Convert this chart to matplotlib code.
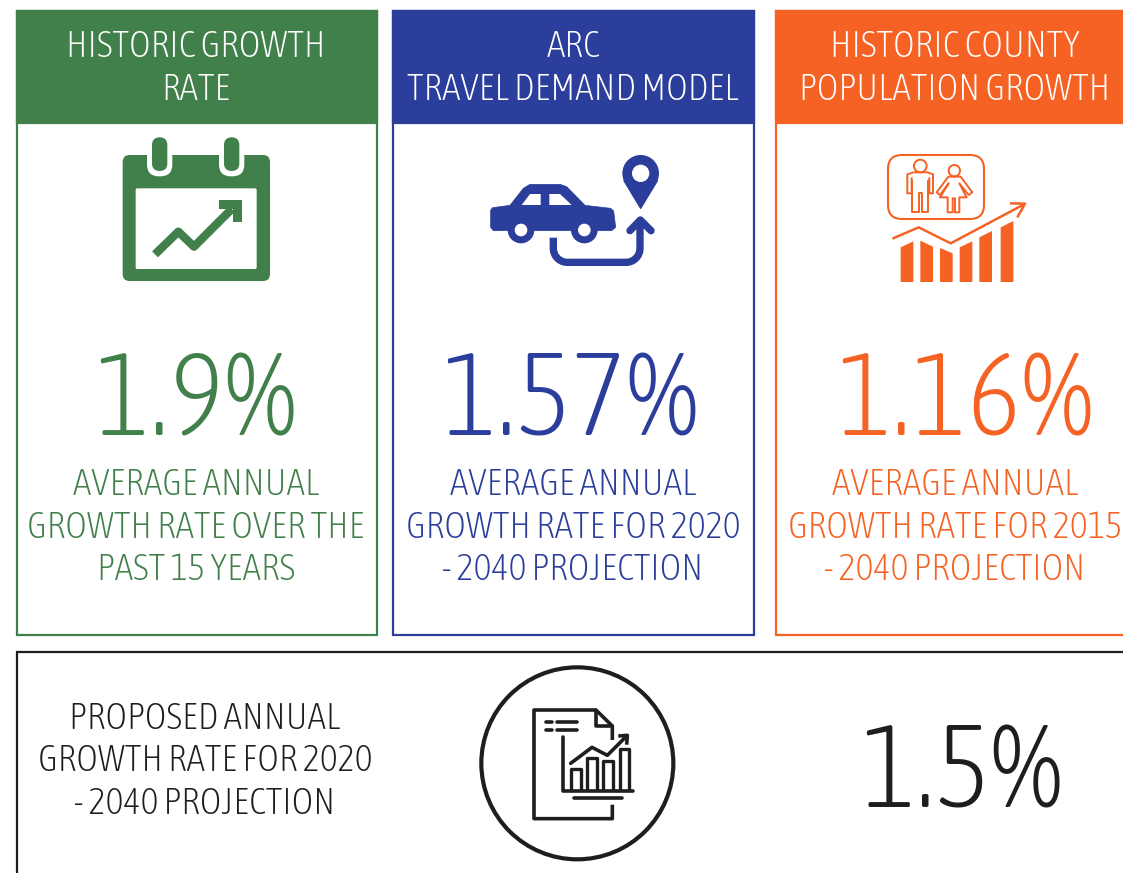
import numpy as np
import matplotlib
matplotlib.use("Agg")
import matplotlib.pyplot as plt
from matplotlib.patches import Rectangle, FancyBboxPatch, Circle, Polygon

# --- Chart content ---
titles = [["HISTORIC GROWTH", "RATE"],
          ["ARC", "TRAVEL DEMAND MODEL"],
          ["HISTORIC COUNTY", "POPULATION GROWTH"]]
values = ["1.9%", "1.57%", "1.16%"]
captions = [["AVERAGE ANNUAL", "GROWTH RATE OVER THE", "PAST 15 YEARS"],
            ["AVERAGE ANNUAL", "GROWTH RATE FOR 2020", "- 2040 PROJECTION"],
            ["AVERAGE ANNUAL", "GROWTH RATE FOR 2015", "- 2040 PROJECTION"]]
proposed_caption = ["PROPOSED ANNUAL", "GROWTH RATE FOR 2020", "- 2040 PROJECTION"]
proposed_value = "1.5%"

GREEN = "#417f4b"
BLUE = "#2c3e9b"
ORANGE = "#f56224"
BLACK = "#1e1e1e"
colors = [GREEN, BLUE, ORANGE]

# panel edges in pixels
panel_left = [17, 393, 776]
panel_right = [377, 754, 1135]
text_x = [196, 573, 955]
value_x = [196, 570, 965]

NARROW = ["Asap Condensed", "Liberation Sans", "DejaVu Sans"]
TXT = 26.8
BIG = 84

fig = plt.figure(figsize=(11.23, 8.73), dpi=100)
ax = fig.add_axes([0, 0, 1, 1])
ax.set_xlim(0, 1123)
ax.set_ylim(873, 0)
ax.axis("off")


def poly(pts, ox, oy, color, lw=0, z=3):
    # points are read at 3x from the crops, ox/oy is the crop corner
    xy = [(x / 3 + ox, y / 3 + oy) for x, y in pts]
    ax.add_patch(Polygon(xy, closed=True, fc=color, ec=color, lw=lw, zorder=z, joinstyle="round"))


def line(pts, ox, oy, color, lw, z=3, cap="butt"):
    x = [p[0] / 3 + ox for p in pts]
    y = [p[1] / 3 + oy for p in pts]
    ax.plot(x, y, color=color, lw=lw, zorder=z, solid_capstyle=cap, solid_joinstyle="round")


def circ(x, y, r, ox, oy, fc, ec="none", lw=0, z=3):
    ax.add_patch(Circle((x / 3 + ox, y / 3 + oy), r / 3, fc=fc, ec=ec, lw=lw, zorder=z))


def rbox(x0, y0, x1, y1, ox, oy, r, fc, ec="none", lw=0, z=3):
    ax.add_patch(FancyBboxPatch((x0 / 3 + ox + r, y0 / 3 + oy + r),
                                (x1 - x0) / 3 - 2 * r, (y1 - y0) / 3 - 2 * r,
                                boxstyle=f"round,pad={r},rounding_size={r}",
                                fc=fc, ec=ec, lw=lw, zorder=z))


# --- Panels ---
for i, c in enumerate(colors):
    w = panel_right[i] - panel_left[i]
    ax.add_patch(Rectangle((panel_left[i], 11), w, 624, fc="white", ec=c, lw=1.6, zorder=1))
    ax.add_patch(Rectangle((panel_left[i], 11), w, 112, fc=c, ec=c, lw=1.6, zorder=2))
    for txt, y in zip(titles[i], [43, 86]):
        ax.text(text_x[i], y, txt, color="white", family=NARROW, fontweight="light", fontsize=TXT,
                ha="center", va="center_baseline", zorder=4)
    ax.text(value_x[i], 391, values[i], color=c, family=NARROW, fontweight="light", fontsize=BIG,
            ha="center", va="center_baseline", zorder=4)
    for txt, y in zip(captions[i], [481, 524, 566]):
        ax.text(text_x[i], y, txt, color=c, family=NARROW, fontweight="light", fontsize=TXT,
                ha="center", va="center_baseline", zorder=4)

# --- Bottom box ---
ax.plot([17, 17, 1123], [880, 652, 652], color=BLACK, lw=1.6, zorder=2, solid_joinstyle="miter")
for txt, y in zip(proposed_caption, [715, 757, 800]):
    ax.text(205, y, txt, color=BLACK, family=NARROW, fontweight="light", fontsize=TXT,
            ha="center", va="center_baseline")
ax.text(961, 763, proposed_value, color=BLACK, family=NARROW, fontweight="light", fontsize=BIG,
        ha="center", va="center_baseline")

# --- Calendar icon ---
ox, oy = 100, 125
rbox(68, 90, 510, 468, ox, oy, 7, GREEN)
rbox(107, 190, 470, 432, ox, oy, 1.5, "white", z=4)
for cx in [179, 395]:
    rbox(cx - 38, 60, cx + 38, 154, ox, oy, 12, "white", z=4)
    ax.add_patch(Rectangle(((cx - 38) / 3 + ox, 70 / 3 + oy), 76 / 3, 20 / 3, fc="white", ec="none", zorder=4))
    rbox(cx - 23, 37, cx + 23, 138, ox, oy, 7.6, GREEN, z=5)
line([(165, 388), (235, 320), (282, 365), (395, 252)], ox, oy, GREEN, 6, z=5)
poly([(358, 225), (426, 225), (426, 291), (398, 291), (398, 252), (358, 252)], ox, oy, GREEN, z=5)

# --- Car icon ---
ox, oy = 470, 140
poly([(62, 210), (68, 203), (120, 196), (160, 145), (180, 133), (270, 133), (290, 140), (345, 196),
      (422, 205), (431, 213), (437, 262), (425, 272), (70, 272), (62, 262)], ox, oy, BLUE, lw=0.5)
for cx in [153, 343]:
    circ(cx, 270, 40, ox, oy, BLUE)
    circ(cx, 270, 19, ox, oy, "white", z=4)
poly([(155, 195), (180, 162), (212, 162), (212, 195)], ox, oy, "white", z=4)
poly([(238, 162), (270, 162), (305, 195), (238, 195)], ox, oy, "white", z=4)
t = np.linspace(np.pi, np.pi / 2, 20)
route = [(250, 293), (250, 325)]
route += [(292 + 42 * np.cos(a), 325 + 42 * np.sin(a)) for a in t]
route += [(468 + 42 * np.cos(a), 325 + 42 * np.sin(a)) for a in np.linspace(np.pi / 2, 0, 20)]
route += [(510, 240)]
line(route, ox, oy, BLUE, 5.3)
line([(480, 272), (511, 240), (543, 272)], ox, oy, BLUE, 5.3, cap="round")
circ(512, 100, 55, ox, oy, BLUE)
poly([(462, 122), (512, 205), (562, 122)], ox, oy, BLUE, lw=1)
circ(512, 100, 26, ox, oy, "white", z=4)

# --- People icon ---
ox, oy = 870, 140
rbox(54, 45, 342, 237, ox, oy, 14, "none", ec=ORANGE, lw=1.5)
circ(151, 78, 19, ox, oy, "none", ec=ORANGE, lw=1.4)
line([(130, 97), (172, 97), (189, 103), (189, 160), (178, 160), (178, 112)], ox, oy, ORANGE, 1.4)
line([(130, 97), (112, 103), (112, 160), (125, 160), (125, 112)], ox, oy, ORANGE, 1.4)
line([(127, 120), (127, 215), (148, 215), (148, 160), (155, 160), (155, 215), (175, 215), (175, 120)],
     ox, oy, ORANGE, 1.4)
circ(253, 92, 17, ox, oy, "none", ec=ORANGE, lw=1.4)
line([(235, 110), (272, 110), (307, 157), (296, 165), (268, 130), (290, 172), (268, 172), (268, 217),
      (255, 217), (255, 175), (248, 175), (248, 217), (233, 217), (233, 172), (210, 172), (236, 130),
      (210, 165), (200, 157), (235, 110)], ox, oy, ORANGE, 1.4)
# small bars
bar_pts = [(92, 322, 130, 304), (151, 302, 189, 320), (210, 324, 248, 340),
           (269, 322, 307, 304), (328, 292, 366, 273), (392, 262, 430, 243)]
for x0, y0, x1, y1 in bar_pts:
    poly([(x0, y0), (x1, y1), (x1, 426), (x0, 426)], ox, oy, ORANGE)
line([(67, 296), (146, 262), (242, 310), (462, 193)], ox, oy, ORANGE, 1.8)
line([(420, 190), (465, 191), (442, 232)], ox, oy, ORANGE, 1.8)

# --- Report icon ---
ox, oy = 470, 660
circ(322, 310, 288, ox, oy, "none", ec=BLACK, lw=3)
line([(427, 240), (427, 198), (378, 150), (192, 150), (192, 476), (427, 476), (427, 434)], ox, oy, BLACK, 2.6)
line([(378, 150), (378, 198), (427, 198)], ox, oy, BLACK, 2.6)
line([(228, 186), (246, 186)], ox, oy, BLACK, 2.6, cap="round")
line([(262, 186), (320, 186)], ox, oy, BLACK, 2.6, cap="round")
line([(228, 211), (246, 211)], ox, oy, BLACK, 2.6, cap="round")
line([(262, 211), (320, 211)], ox, oy, BLACK, 2.6, cap="round")
line([(280, 232), (280, 392), (490, 392)], ox, oy, BLACK, 2.6, cap="round")
line([(313, 414), (455, 414)], ox, oy, BLACK, 2.6, cap="round")
for x0, x1, top in [(303, 332, 328), (352, 381, 294), (399, 428, 304), (449, 478, 268)]:
    line([(x0, 392), (x0, top), (x1, top), (x1, 392)], ox, oy, BLACK, 2.4)
line([(302, 310), (366, 262), (412, 286), (466, 232)], ox, oy, BLACK, 2.6, cap="round")
line([(445, 228), (472, 226), (470, 254)], ox, oy, BLACK, 2.6)

fig.savefig("out.png", dpi=100)
